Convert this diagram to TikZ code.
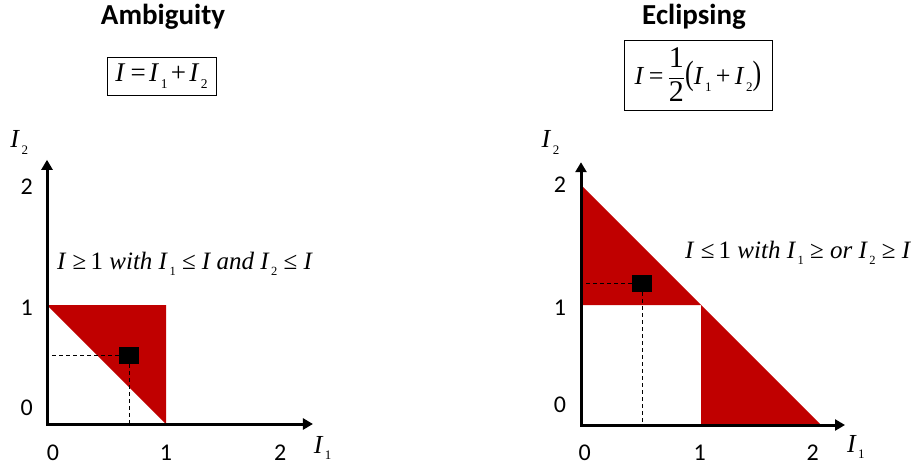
\documentclass[tikz,border=0pt]{standalone}
\usepackage{amsmath}
\usepackage{fontspec}
\setmainfont{Liberation Serif}
\newfontfamily\calibri{Carlito}
\usetikzlibrary{arrows.meta}
\definecolor{regionred}{RGB}{192,0,0}
\newcommand{\Isub}[1]{\textit{I}\kern0.06em\raisebox{-0.25em}{\scalebox{0.5}{#1}}}

\begin{document}
\begin{tikzpicture}[x=1pt, y=1pt,
      axis/.style={line width=3pt,
        {Triangle[length=10pt,width=11pt]}-{Triangle[length=10pt,width=11pt]}},
      region/.style={fill=regionred, draw=none},
      probe/.style={fill=black, minimum width=20pt, minimum height=17pt, inner sep=0pt},
      guide/.style={line width=0.8pt, dash pattern=on 4pt off 3pt},
      tick/.style={font=\calibri\fontsize{24}{24}\selectfont, inner sep=0pt},
      ttl/.style={font=\calibri\bfseries\fontsize{29}{32}\selectfont, anchor=base, inner sep=0pt},
      formula/.style={draw, line width=0.9pt, inner sep=0pt,
        font=\fontsize{27}{32}\selectfont},
      axlabel/.style={font=\fontsize{26}{28}\selectfont, anchor=base west, inner sep=0pt},
      note/.style={font=\fontsize{25}{28}\selectfont, anchor=base west, inner sep=0pt}
    ]
    \useasboundingbox (0,0) rectangle (913,467);
    % ---------------- left panel: ambiguity ----------------
    \node[ttl] (tA) at (163,442) {Ambiguity};
    \node[formula, minimum width=109pt, minimum height=38pt] (fA) at (161.5,391)
      {\textit{I}\kern0.2em=\kern0.12em\Isub{1}\kern0.12em+\kern0.12em\Isub{2}};
    \begin{scope}[shift={(47,43)}, x=119pt, y=119pt]
      \coordinate (oA) at (0,0);
      \coordinate (yA) at (0,2.22);
      \coordinate (xA) at (2.235,0);
      \fill[region] (0,1) -- (1,1) -- (1,0) -- cycle;
      \node[probe] (pA) at (0.69,0.575) {};
      \draw[guide] (pA) -- (pA -| oA);
      \draw[guide] (pA) -- (pA |- oA);
      \draw[axis] (yA) -- (oA) -- (xA);
      \node[tick] (x0A) at (0.05,-0.24) {0};
      \node[tick] (x1A) at (1,-0.24) {1};
      \node[tick] (x2A) at (1.96,-0.24) {2};
      \node[tick] (y0A) at (-0.17,0.14) {0};
      \node[tick] (y1A) at (-0.17,0.975) {1};
      \node[tick] (y2A) at (-0.17,1.99) {2};
      \node[axlabel] (lyA) at (-0.31,2.32) {\Isub{2}};
      \node[axlabel] (lxA) at (2.24,-0.244) {\Isub{1}};
      \node[note] (nA) at (0.084,1.30)
        {\textit{I} ≥\,1 \textit{with} \Isub{1} ≤ \textit{I and} \Isub{2} ≤ \textit{I}};
    \end{scope}
    % ---------------- right panel: eclipsing ----------------
    \node[ttl] (tE) at (694,442) {Eclipsing};
    \node[formula, minimum width=148pt, minimum height=70pt] (fE) at (698,392)
      {\fontsize{26}{30}\selectfont\textit{I}\,=\,\(\displaystyle\frac{\text{\fontsize{30}{30}\selectfont 1}}{\text{\fontsize{30}{30}\selectfont 2}}\)\scalebox{1}[1.3]{(}\Isub{1}\,+\,\Isub{2}\scalebox{1}[1.3]{)}};
    \begin{scope}[shift={(581,42)}, x=120pt, y=120pt]
      \coordinate (oE) at (0,0);
      \coordinate (yE) at (0,2.19);
      \coordinate (xE) at (2.2,0);
      \fill[region] (0,2) -- (1,1) -- (0,1) -- cycle;
      \fill[region] (1,1) -- (2,0) -- (1,0) -- cycle;
      \node[probe] (pE) at (0.51,1.18) {};
      \draw[guide] (pE) -- (pE -| oE);
      \draw[guide] (pE) -- (pE |- oE);
      \draw[axis] (yE) -- (oE) -- (xE);
      \node[tick] (x0E) at (0.03,-0.233) {0};
      \node[tick] (x1E) at (0.99,-0.233) {1};
      \node[tick] (x2E) at (1.93,-0.233) {2};
      \node[tick] (y0E) at (-0.175,0.167) {0};
      \node[tick] (y1E) at (-0.175,0.975) {1};
      \node[tick] (y2E) at (-0.175,2.0) {2};
      \node[axlabel] (lyE) at (-0.33,2.31) {\Isub{2}};
      \node[axlabel] (lxE) at (2.215,-0.225) {\Isub{1}};
      \node[note] (nE) at (0.867,1.39)
        {\textit{I} ≤\,1 \textit{with} \Isub{1} ≥ \textit{or} \Isub{2} ≥ \textit{I}};
    \end{scope}
  \end{tikzpicture}
\end{document}
